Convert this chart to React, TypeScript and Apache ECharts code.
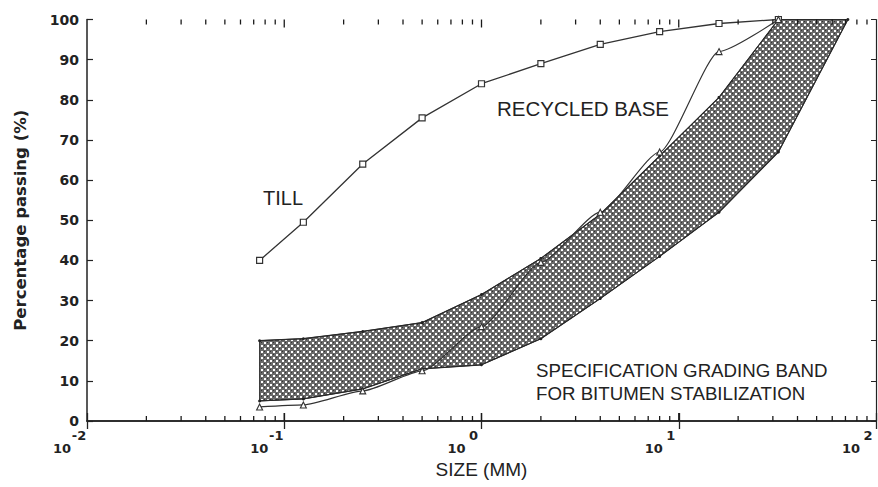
import React, { useEffect, useRef } from 'react';
import * as echarts from 'echarts';

// ---- data ----
const sieveSizes = [0.075, 0.125, 0.25, 0.5, 1, 2, 4, 8, 16, 32];
const tillPassing = [40, 49.5, 64, 75.5, 84, 89, 93.8, 97, 99, 100];
const recycledPassing = [3.5, 4, 7.5, 12.5, 23.5, 39.5, 52, 67, 92, 100];

const bandUpperSizes = [0.075, 0.125, 0.25, 0.5, 1, 2, 4, 8, 16, 32];
const bandUpperPassing = [20, 20.5, 22.3, 24.5, 31.5, 40.5, 51.5, 66, 80.6, 100];
const bandLowerSizes = [0.075, 0.125, 0.25, 0.5, 1, 2, 4, 8, 16, 32, 72];
const bandLowerPassing = [5, 5.5, 8, 13, 14, 20.5, 30.5, 41, 52, 67, 100];

const xMin = 0.01;
const xMax = 100;
const yMin = 0;
const yMax = 100;
const yInterval = 10;
const majorDecades = [0.1, 1, 10];
const minorDecades = [0.01, 0.1, 1, 10];
const minorMultipliers = [2, 3, 4, 5, 6, 7, 8, 9];
const minorLen = 5;
const majorLen = 8;

const pairs = (xs: number[], ys: number[]) => xs.map((x, i) => [x, ys[i]]);

const font = 'DejaVu Sans';
const ink = '#222';

function makePattern() {
  const c = document.createElement('canvas');
  c.width = 6;
  c.height = 6;
  const ctx = c.getContext('2d')!;
  ctx.fillStyle = '#6a6a6a';
  ctx.fillRect(0, 0, 6, 6);
  ctx.fillStyle = '#fff';
  ctx.fillRect(0, 0, 2, 2);
  ctx.fillRect(3, 3, 2, 2);
  ctx.fillStyle = '#333';
  ctx.fillRect(3, 0, 1, 1);
  ctx.fillRect(0, 3, 1, 1);
  return { image: c.toDataURL(), repeat: 'repeat', imageWidth: 6, imageHeight: 6 };
}

export default function App() {
  const ref = useRef<HTMLDivElement>(null);
  useEffect(() => {
    if (!ref.current) return;
    const chart = echarts.init(ref.current, undefined, { renderer: 'svg' });
    const pattern = makePattern();
    const upper = pairs(bandUpperSizes, bandUpperPassing);
    const lower = pairs(bandLowerSizes, bandLowerPassing);
    const bandPolygon = [...upper, ...lower.slice().reverse()];
    // tick rows: [size, dummy y, tick length]
    const tickRows: number[][] = [];
    minorDecades.forEach((d) => minorMultipliers.forEach((m) => tickRows.push([+(d * m).toPrecision(3), 50, minorLen])));
    majorDecades.forEach((d) => tickRows.push([d, 50, majorLen]));

    const tok = { fontSize: 13, fontWeight: 'bold', fontFamily: font, color: ink, lineHeight: 13 };
    const xLabelRich = {
      sp: { ...tok, width: 24 },
      e: { ...tok, width: 16, align: 'left' },
      b: { ...tok, width: 24, align: 'right' },
      sp2: { ...tok, width: 16 },
    };

    const labelText = (x: number, y: number, text: string, size: number) => ({
      type: 'text',
      x,
      y,
      style: { text, fontSize: size, fontFamily: 'Liberation Sans', fill: ink, verticalAlign: 'middle', align: 'left', textVerticalAlign: 'middle' },
      silent: true,
    });

    chart.setOption({
      animation: false,
      backgroundColor: '#fff',
      grid: { left: 87, right: 2, top: 19.5, bottom: 66, containLabel: false, outerBoundsMode: 'none' },
      xAxis: [
        {
          type: 'log',
          logBase: 10,
          min: xMin,
          max: xMax,
          position: 'bottom',
          name: 'SIZE (MM)',
          nameLocation: 'middle',
          nameGap: 36,
          nameTextStyle: { fontFamily: 'Liberation Sans', fontSize: 19, color: ink },
          axisLine: { lineStyle: { color: ink, width: 1.5 } },
          axisTick: { inside: true, length: majorLen, lineStyle: { color: ink, width: 1.3 } },
          axisLabel: {
            formatter: (v: number) => `{sp| }{e|${Math.round(Math.log10(v))}}\n{b|10}{sp2| }`,
            align: 'right',
            margin: 8,
            rich: xLabelRich,
          },
          splitLine: { show: false },
        },
        {
          type: 'log',
          logBase: 10,
          min: xMin,
          max: xMax,
          position: 'top',
          axisLine: { lineStyle: { color: ink, width: 1.5 } },
          axisTick: { inside: true, length: majorLen, lineStyle: { color: ink, width: 1.3 } },
          axisLabel: { show: false },
          splitLine: { show: false },
        },
      ],
      yAxis: [
        {
          type: 'value',
          min: yMin,
          max: yMax,
          interval: yInterval,
          position: 'left',
          name: 'Percentage passing (%)',
          nameLocation: 'middle',
          nameGap: 58,
          nameTextStyle: { fontFamily: font, fontWeight: 'bold', fontSize: 16.5, color: ink },
          axisLine: { show: true, lineStyle: { color: ink, width: 1.5 } },
          axisTick: { show: true, inside: true, length: 6, lineStyle: { color: ink, width: 1.2 } },
          axisLabel: { fontFamily: font, fontWeight: 'bold', fontSize: 14, color: ink, margin: 8 },
          splitLine: { show: false },
        },
        {
          type: 'value',
          min: yMin,
          max: yMax,
          interval: yInterval,
          position: 'right',
          axisLine: { show: true, lineStyle: { color: ink, width: 1.2 } },
          axisTick: { show: true, inside: true, length: 5, lineStyle: { color: ink, width: 1 } },
          axisLabel: { show: false },
          splitLine: { show: false },
        },
      ],
      series: [
        {
          type: 'custom',
          name: 'band',
          coordinateSystem: 'cartesian2d',
          data: [[1, 50]],
          silent: true,
          z: 1,
          renderItem: (_params: any, api: any) => ({
            type: 'polygon',
            shape: { points: bandPolygon.map((p) => api.coord(p)) },
            style: { fill: pattern, stroke: '#2a2a2a', lineWidth: 1 },
          }),
        },
        {
          type: 'line',
          name: 'band upper',
          data: upper,
          z: 2,
          silent: true,
          symbol: 'circle',
          symbolSize: 3,
          itemStyle: { color: '#222' },
          lineStyle: { color: '#2a2a2a', width: 1.2 },
        },
        {
          type: 'line',
          name: 'band lower',
          data: lower,
          z: 2,
          silent: true,
          symbol: 'circle',
          symbolSize: 3,
          itemStyle: { color: '#222' },
          lineStyle: { color: '#2a2a2a', width: 1.2 },
        },
        {
          type: 'line',
          name: 'TILL',
          data: pairs(sieveSizes, tillPassing),
          z: 3,
          silent: true,
          symbol: 'rect',
          symbolSize: 6,
          itemStyle: { color: '#fff', borderColor: '#333', borderWidth: 1.2 },
          lineStyle: { color: '#333', width: 1.3 },
        },
        {
          type: 'line',
          name: 'RECYCLED BASE',
          data: pairs(sieveSizes, recycledPassing),
          z: 3,
          silent: true,
          smooth: 0.2,
          smoothMonotone: 'x',
          symbol: 'triangle',
          symbolSize: 6,
          itemStyle: { color: '#fff', borderColor: '#333', borderWidth: 1.1 },
          lineStyle: { color: '#333', width: 1.2 },
        },
        {
          type: 'custom',
          name: 'log ticks',
          coordinateSystem: 'cartesian2d',
          data: tickRows,
          encode: { x: 0, y: 1 },
          dimensions: ['size', 'y', 'len'],
          clip: false,
          silent: true,
          z: 10,
          renderItem: (_params: any, api: any) => {
            const v = api.value(0);
            const lenRaw = api.value(2);
            const len = typeof lenRaw === 'number' && isFinite(lenRaw) ? lenRaw : minorLen;
            const b = api.coord([v, yMin]);
            const t = api.coord([v, yMax]);
            const st = { stroke: '#1a1a1a', lineWidth: 1.3 };
            return {
              type: 'group',
              children: [
                { type: 'line', shape: { x1: b[0], y1: b[1], x2: b[0], y2: b[1] - len }, style: st },
                { type: 'line', shape: { x1: t[0], y1: t[1], x2: t[0], y2: t[1] + len }, style: st },
              ],
            };
          },
        },
      ],
      graphic: [
        labelText(263, 198, 'TILL', 20),
        labelText(497, 108, 'RECYCLED BASE', 20.5),
        labelText(536, 370, 'SPECIFICATION GRADING BAND', 18.7),
        labelText(536, 393, 'FOR BITUMEN STABILIZATION', 18.7),
      ],
    });
    return () => chart.dispose();
  }, []);
  return <div ref={ref} style={{ position: 'absolute', left: 0, top: 0, width: 878, height: 487 }} />;
}
